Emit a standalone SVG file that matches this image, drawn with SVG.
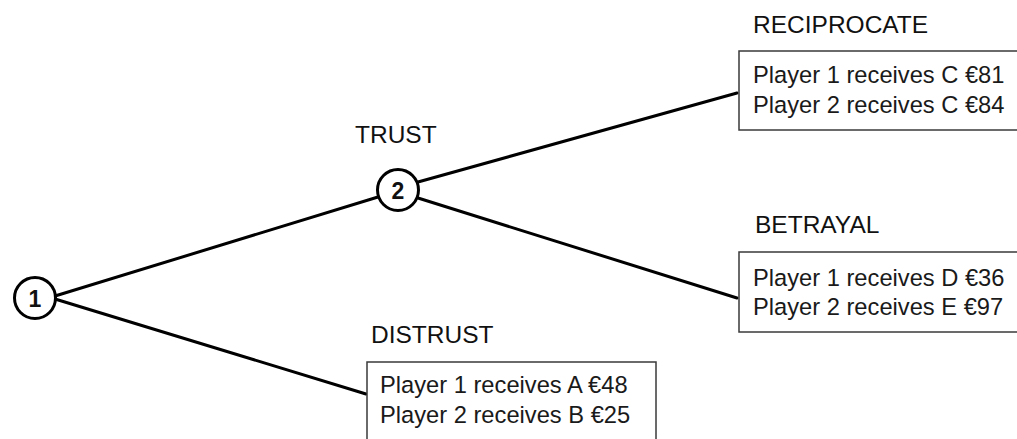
<svg xmlns="http://www.w3.org/2000/svg" width="1017" height="439" viewBox="0 0 1017 439">
  <style>
    .edge { stroke: #000; stroke-width: 3; fill: none; stroke-linecap: round; }
    .node { fill: #fff; stroke: #000; stroke-width: 3; }
    .num { font-family: "Liberation Sans", Arial, sans-serif; font-size: 23px; font-weight: bold; fill: #111; text-anchor: middle; }
    .label { font-family: "Liberation Sans", Arial, sans-serif; font-size: 24.5px; fill: #111; }
    .box { fill: #fff; stroke: #3a3a3a; stroke-width: 1.5; }
    .pay { font-family: "Liberation Sans", Arial, sans-serif; font-size: 23.7px; fill: #1a1a1a; }
  </style>
  <rect width="1017" height="439" fill="#fff"/>
  <g id="connectors">
    <line class="edge" x1="55" y1="296" x2="378" y2="197"/>
    <line class="edge" x1="55" y1="299" x2="366" y2="394"/>
    <line class="edge" x1="418" y1="182" x2="737" y2="93"/>
    <line class="edge" x1="418" y1="198" x2="737" y2="298"/>
  </g>
  <g id="node1">
    <circle class="node" cx="35" cy="298" r="20.5"/>
    <text class="num" x="35" y="306.5">1</text>
  </g>
  <g id="node2">
    <circle class="node" cx="398" cy="190" r="20.5"/>
    <text class="num" x="398" y="198.5">2</text>
    <text class="label" x="355" y="143">TRUST</text>
  </g>
  <g id="reciprocate">
    <text class="label" x="753" y="33">RECIPROCATE</text>
    <rect class="box" x="739" y="51" width="290" height="79"/>
    <text class="pay" x="753" y="83">Player 1 receives C €81</text>
    <text class="pay" x="753" y="113">Player 2 receives C €84</text>
  </g>
  <g id="betrayal">
    <text class="label" x="755" y="233">BETRAYAL</text>
    <rect class="box" x="739" y="252" width="290" height="80"/>
    <text class="pay" x="753" y="286">Player 1 receives D €36</text>
    <text class="pay" x="753" y="315">Player 2 receives E €97</text>
  </g>
  <g id="distrust">
    <text class="label" x="371" y="343">DISTRUST</text>
    <rect class="box" x="367" y="362" width="289" height="90"/>
    <text class="pay" x="380" y="393">Player 1 receives A €48</text>
    <text class="pay" x="380" y="423">Player 2 receives B €25</text>
  </g>
</svg>
